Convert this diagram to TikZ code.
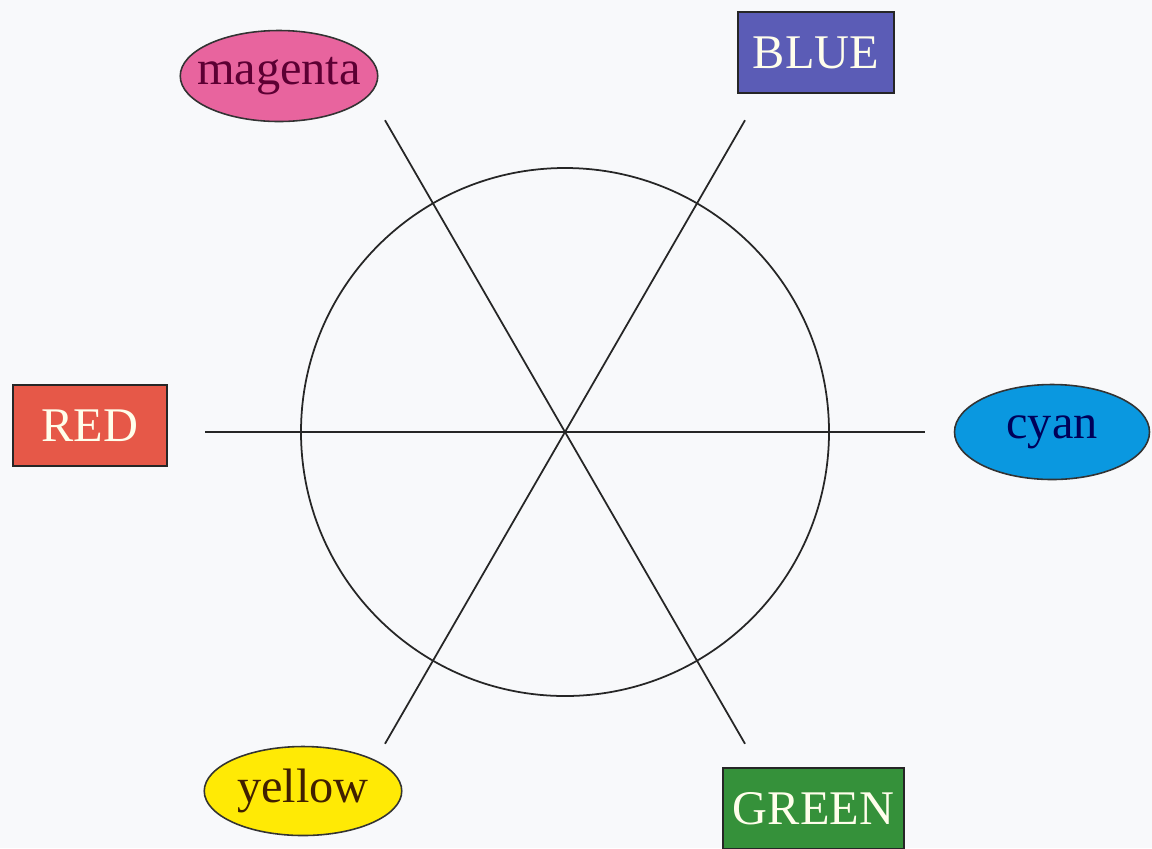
\documentclass[tikz,border=0pt]{standalone}
\usepackage{fontspec}
\setmainfont{Liberation Serif}
\usepackage{xcolor}
\usetikzlibrary{shapes.geometric,calc}

\definecolor{pinkfill}{HTML}{E8649E}
\definecolor{bluefill}{HTML}{5B5CB6}
\definecolor{redfill}{HTML}{E65848}
\definecolor{cyanfill}{HTML}{0A98E0}
\definecolor{yellowfill}{HTML}{FFEA05}
\definecolor{greenfill}{HTML}{35913A}
\definecolor{paper}{HTML}{F8F9FB}

\begin{document}
\begin{tikzpicture}[
    font=\fontsize{27.5}{30}\selectfont,
    box/.style={draw=black!85, line width=0.9pt, inner sep=0pt,
                minimum width=3.1cm, minimum height=1.62cm, text=white!92!yellow},
    oval/.style={ellipse, draw=black!80, line width=0.9pt, inner sep=0pt,
                 minimum width=3.95cm, minimum height=1.82cm},
    spoke/.style={line width=1pt, black!85},
]

% --- page ---
\fill[paper] (0,0) rectangle (23.04,-16.96);
\useasboundingbox (0,0) rectangle (23.04,-16.96);

% --- wheel in the middle ---
\coordinate (hub) at (11.3,-8.64);
\node[circle, draw=black!85, line width=1pt, minimum size=10.56cm] (wheel) at (hub) {};

% spoke ends, one every 60 degrees
\foreach \a/\n in {0/e,60/ne,120/nw,180/w,240/sw,300/se}
  \coordinate (end-\n) at ($(hub)+(\a:7.2cm)$);

\draw[spoke] (end-w)  -- (end-e);
\draw[spoke] (end-nw) -- (end-se);
\draw[spoke] (end-ne) -- (end-sw);

% --- the six colour labels ---
\node[oval, fill=pinkfill, text=black!55!red!80!blue, inner xsep=-7pt]
                                                        (magenta) at (5.58,-1.52) {magenta};
\node[box, fill=bluefill, minimum width=3.12cm]         (blue)    at (16.32,-1.05) {BLUE};
\node[box, fill=redfill, minimum width=3.08cm]          (red)     at (1.8,-8.51)   {RED};
\node[oval, fill=cyanfill, text=black!65!blue, minimum width=3.9cm, minimum height=1.9cm]
                                                        (cyan)    at (21.04,-8.64) {cyan};
\node[oval, fill=yellowfill, text=black!75!orange, minimum height=1.78cm]
                                                        (yellow)  at (6.06,-15.82) {yellow};
\node[box, fill=greenfill, minimum width=3.62cm]        (green)   at (16.27,-16.17) {GREEN};

\end{tikzpicture}
\end{document}
